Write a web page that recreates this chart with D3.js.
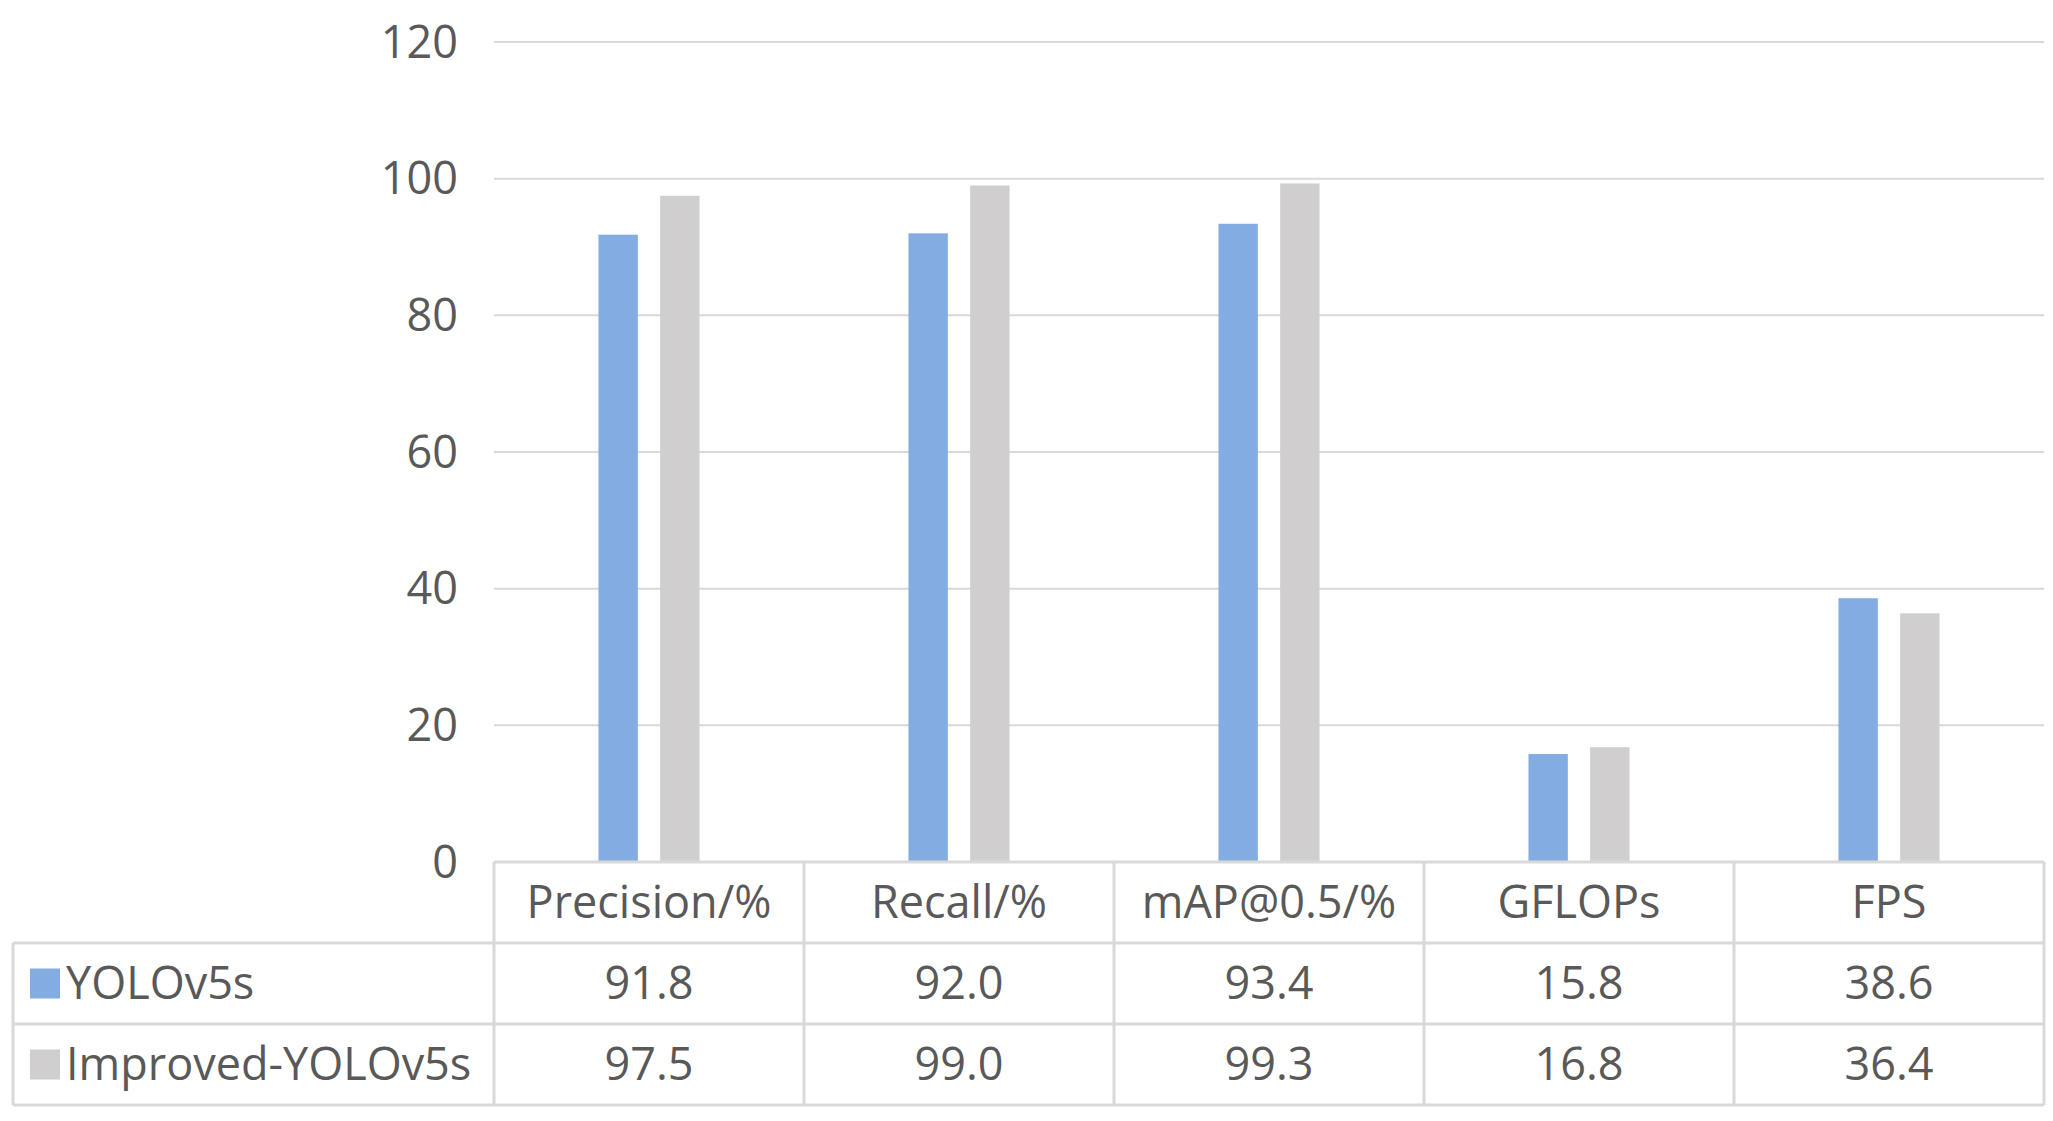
<!DOCTYPE html>
<html><head><meta charset="utf-8">
<script src="https://cdn.jsdelivr.net/npm/d3@7"></script>
<style>body{margin:0;background:#fff}text{font-family:"Liberation Sans Narrow","Open Sans",sans-serif;fill:#595959}</style>
</head><body><svg id="chart"></svg>
<script>
const categories = ["Precision/%", "Recall/%", "mAP@0.5/%", "GFLOPs", "FPS"];
const seriesNames = ["YOLOv5s", "Improved-YOLOv5s"];
const yolo = [91.8, 92.0, 93.4, 15.8, 38.6];
const improved = [97.5, 99.0, 99.3, 16.8, 36.4];
const yTicks = [0, 20, 40, 60, 80, 100, 120];
const colors = ["#83ACE2", "#D0CECE"];

const W = 2053, H = 1121;
const plotLeft = 494, plotRight = 2044, plotTop = 42, base = 862, rowH = 81, tableLeft = 13;
const svg = d3.select("#chart").attr("width", W).attr("height", H);

const x = d3.scaleBand().domain(categories).range([plotLeft, plotRight]);
const y = d3.scaleLinear().domain([0, 120]).range([base, plotTop]);
const bw = x.bandwidth() * 0.127, gap = x.bandwidth() * 0.072;

svg.append("g").selectAll("line").data(yTicks.slice(1)).join("line")
  .attr("x1", plotLeft).attr("x2", plotRight).attr("y1", d => y(d)).attr("y2", d => y(d))
  .attr("stroke", "#d9d9d9").attr("stroke-width", 2);

svg.append("g").selectAll("text").data(yTicks).join("text")
  .attr("x", 458).attr("y", d => y(d)).attr("dy", "0.35em")
  .attr("text-anchor", "end").attr("font-size", 45).text(d => d);

[yolo, improved].forEach((vals, s) => {
  svg.append("g").selectAll("rect").data(vals).join("rect")
    .attr("x", (d, i) => x(categories[i]) + x.bandwidth() / 2 + (s === 0 ? -gap / 2 - bw : gap / 2))
    .attr("y", d => y(d)).attr("width", bw).attr("height", d => base - y(d))
    .attr("fill", colors[s]);
});

// data table
const g = svg.append("g").attr("stroke", "#d9d9d9").attr("stroke-width", 3);
[base, base + rowH, base + 2 * rowH, base + 3 * rowH].forEach((yy, i) =>
  g.append("line").attr("x1", i === 0 ? plotLeft : tableLeft).attr("x2", plotRight).attr("y1", yy).attr("y2", yy));
categories.forEach(c => g.append("line").attr("x1", x(c)).attr("x2", x(c)).attr("y1", base).attr("y2", base + 3 * rowH));
g.append("line").attr("x1", plotRight).attr("x2", plotRight).attr("y1", base).attr("y2", base + 3 * rowH);
g.append("line").attr("x1", tableLeft).attr("x2", tableLeft).attr("y1", base + rowH).attr("y2", base + 3 * rowH);

svg.append("g").selectAll("text").data(categories).join("text")
  .attr("x", d => x(d) + x.bandwidth() / 2).attr("y", base + rowH / 2).attr("dy", "0.35em")
  .attr("text-anchor", "middle").attr("font-size", 45).text(d => d);

[yolo, improved].forEach((vals, s) => {
  const ry = base + rowH * (s + 1) + rowH / 2;
  svg.append("rect").attr("x", 30).attr("y", ry - 15).attr("width", 30).attr("height", 30).attr("fill", colors[s]);
  svg.append("text").attr("x", 66).attr("y", ry).attr("dy", "0.35em").attr("font-size", 45).text(seriesNames[s]);
  svg.append("g").selectAll("text").data(vals).join("text")
    .attr("x", (d, i) => x(categories[i]) + x.bandwidth() / 2).attr("y", ry).attr("dy", "0.35em")
    .attr("text-anchor", "middle").attr("font-size", 45).text(d => d.toFixed(1));
});
</script></body></html>
